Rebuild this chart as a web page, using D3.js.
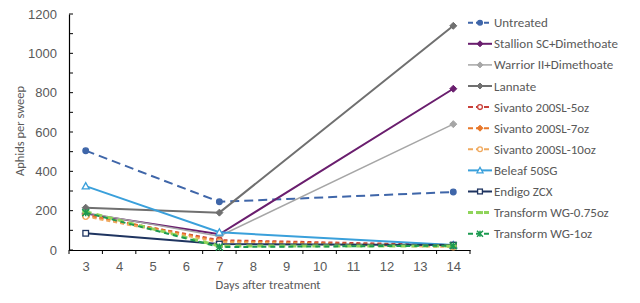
<!DOCTYPE html>
<html><head><meta charset="utf-8">
<script src="https://cdn.jsdelivr.net/npm/d3@7"></script>
<style>body{margin:0;background:#fff;}svg{display:block;font-family:Calibri,Carlito,Lato,sans-serif;}</style>
</head><body><svg id="c" width="640" height="303"></svg>
<script>
const days = [3, 7, 14];
const xTicks = [3,4,5,6,7,8,9,10,11,12,13,14];
const yTicks = [0,200,400,600,800,1000,1200];
const seriesNames = ["Untreated","Stallion SC+Dimethoate","Warrior II+Dimethoate","Lannate","Sivanto 200SL-5oz","Sivanto 200SL-7oz","Sivanto 200SL-10oz","Beleaf 50SG","Endigo ZCX","Transform WG-0.75oz","Transform WG-1oz"];
const untreated = [505, 245, 295];
const stallion = [185, 80, 820];
const warrior = [190, 70, 640];
const lannate = [215, 190, 1140];
const sivanto5 = [175, 50, 25];
const sivanto7 = [180, 45, 20];
const sivanto10 = [170, 40, 15];
const beleaf = [325, 90, 25];
const endigo = [85, 30, 25];
const transform075 = [195, 20, 20];
const transform1 = [190, 15, 22];
const allValues = [untreated,stallion,warrior,lannate,sivanto5,sivanto7,sivanto10,beleaf,endigo,transform075,transform1];

const styles = [
  {color:"#3F66A9", dash:"9,5", marker:"circle", fill:true, w:2},
  {color:"#6A1E6E", dash:null, marker:"diamond", fill:true, w:2},
  {color:"#A6A6A6", dash:null, marker:"diamond", fill:true, w:1.5},
  {color:"#707070", dash:null, marker:"diamond", fill:true, w:2},
  {color:"#C9413A", dash:"4,3", marker:"circle", fill:false, w:2},
  {color:"#E8782A", dash:"4,3", marker:"diamond", fill:true, w:2},
  {color:"#F0A95E", dash:"4,3", marker:"circle", fill:false, w:2},
  {color:"#3AA0DB", dash:null, marker:"triangle", fill:false, w:2},
  {color:"#1F3460", dash:null, marker:"square", fill:false, w:2},
  {color:"#8FD45A", dash:"6,5", marker:"dash", fill:true, w:3},
  {color:"#1C9A50", dash:"5,4", marker:"star", fill:true, w:2}
];

const svg = d3.select("#c");
const x = d3.scaleLinear().domain([2.5,14.5]).range([69,470]);
const y = d3.scaleLinear().domain([0,1200]).range([250,14]);
const textCol = "#595959";

// y axis
const yAxis = svg.append("g").attr("transform","translate(69,0)")
  .call(d3.axisLeft(y).tickValues(yTicks).tickFormat(d3.format("d")).tickSize(0).tickPadding(12));
yAxis.select(".domain").attr("stroke","#000").attr("stroke-width",1.2);
yAxis.selectAll("text").attr("fill",textCol).style("font-size","13px");
svg.append("g").selectAll("line").data(d3.range(0,1201,100)).join("line")
  .attr("x1",69).attr("x2",73).attr("y1",d=>y(d)).attr("y2",d=>y(d)).attr("stroke","#000");

// x axis
const xAxis = svg.append("g").attr("transform","translate(0,250)")
  .call(d3.axisBottom(x).tickValues(xTicks).tickFormat(d3.format("d")).tickSize(0).tickPadding(12));
xAxis.select(".domain").attr("stroke","#000").attr("stroke-width",1.2);
xAxis.selectAll("text").attr("fill",textCol).style("font-size","13px");
svg.append("g").selectAll("line").data(d3.range(2.5,14.6,1)).join("line")
  .attr("x1",d=>x(d)).attr("x2",d=>x(d)).attr("y1",250).attr("y2",254).attr("stroke","#000");

svg.append("text").attr("x",268).attr("y",289).attr("text-anchor","middle")
  .attr("fill",textCol).style("font-size","12.5px").text("Days after treatment");
svg.append("text").attr("transform","translate(24,131) rotate(-90)").attr("text-anchor","middle")
  .attr("fill",textCol).style("font-size","12.5px").text("Aphids per sweep");

function drawMarker(g, st, cx, cy, s) {
  const fill = st.fill ? st.color : "#fff";
  if (st.marker==="circle") g.append("circle").attr("cx",cx).attr("cy",cy).attr("r",s*0.8).attr("fill",fill).attr("stroke",st.color).attr("stroke-width",1.3);
  else if (st.marker==="diamond") g.append("path").attr("d",`M${cx},${cy-s}L${cx+s},${cy}L${cx},${cy+s}L${cx-s},${cy}Z`).attr("fill",fill).attr("stroke",st.color);
  else if (st.marker==="triangle") g.append("path").attr("d",`M${cx},${cy-s}L${cx+s},${cy+s*0.8}L${cx-s},${cy+s*0.8}Z`).attr("fill",fill).attr("stroke",st.color).attr("stroke-width",1.3);
  else if (st.marker==="square") g.append("rect").attr("x",cx-s*0.8).attr("y",cy-s*0.8).attr("width",s*1.6).attr("height",s*1.6).attr("fill",fill).attr("stroke",st.color).attr("stroke-width",1.3);
  else if (st.marker==="dash") g.append("line").attr("x1",cx-s).attr("x2",cx+s).attr("y1",cy).attr("y2",cy).attr("stroke",st.color).attr("stroke-width",3);
  else if (st.marker==="star") { g.append("path").attr("d",`M${cx-s},${cy-s}L${cx+s},${cy+s}M${cx-s},${cy+s}L${cx+s},${cy-s}M${cx},${cy-s}L${cx},${cy+s}`).attr("stroke",st.color).attr("stroke-width",1.5); }
}

const line = d3.line().x((d,i)=>x(days[i])).y(d=>y(d));
allValues.forEach((vals,k)=>{
  const st = styles[k];
  const g = svg.append("g");
  g.append("path").attr("d",line(vals)).attr("fill","none").attr("stroke",st.color)
    .attr("stroke-width",st.w).attr("stroke-dasharray",st.dash);
  vals.forEach((v,i)=>drawMarker(g, st, x(days[i]), y(v), 3.5));
});

// legend
const lg = svg.append("g");
seriesNames.forEach((name,k)=>{
  const st = styles[k];
  const ly = 22.7 + k*21.1;
  const g = lg.append("g");
  g.append("line").attr("x1",468).attr("x2",492).attr("y1",ly).attr("y2",ly).attr("stroke",st.color)
    .attr("stroke-width",st.w).attr("stroke-dasharray",st.dash ? "5,3" : null);
  drawMarker(g, st, 480, ly, 3);
  g.append("text").attr("x",494).attr("y",ly+4.5).attr("fill",textCol).style("font-size","13px").text(name);
});
</script></body></html>
